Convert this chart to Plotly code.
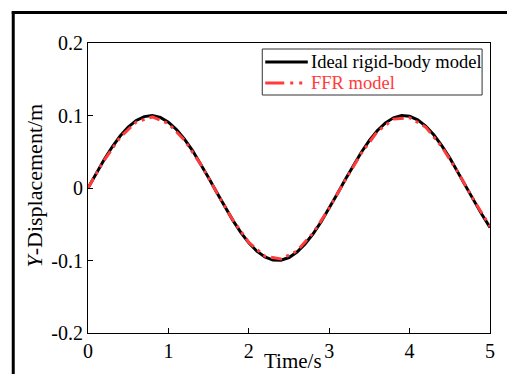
import plotly.graph_objects as go

# Ideal rigid-body model (sampled every 0.1 s)
t_ideal = [0.0, 0.1, 0.2, 0.3, 0.4, 0.5, 0.6, 0.7, 0.8, 0.9,
           1.0, 1.1, 1.2, 1.3, 1.4, 1.5, 1.6, 1.7, 1.8, 1.9,
           2.0, 2.1, 2.2, 2.3, 2.4, 2.5, 2.6, 2.7, 2.8, 2.9,
           3.0, 3.1, 3.2, 3.3, 3.4, 3.5, 3.6, 3.7, 3.8, 3.9,
           4.0, 4.1, 4.2, 4.3, 4.4, 4.5, 4.6, 4.7, 4.8, 4.9, 5.0]
y_ideal = [0.0, 0.0199, 0.0389, 0.0565, 0.0717, 0.0841, 0.0932, 0.0985, 0.0999, 0.0974,
           0.0909, 0.0808, 0.0675, 0.0516, 0.0335, 0.0141, -0.0058, -0.0256, -0.0443, -0.0612,
           -0.0757, -0.0872, -0.0952, -0.0994, -0.0996, -0.0959, -0.0883, -0.0773, -0.0631, -0.0465,
           -0.0279, -0.0083, 0.0117, 0.0312, 0.0494, 0.0657, 0.0794, 0.0899, 0.0968, 0.0999,
           0.0989, 0.0941, 0.0855, 0.0734, 0.0585, 0.0412, 0.0223, 0.0025, -0.0174, -0.0366, -0.0544]

# FFR model (coarser samples)
t_ffr = [0.0, 0.2, 0.4, 0.6, 0.8, 1.0, 1.2, 1.4, 1.6, 1.8,
         2.0, 2.2, 2.4, 2.6, 2.8, 3.0, 3.2, 3.4, 3.6, 3.8,
         4.0, 4.2, 4.4, 4.6, 4.8, 5.0]
y_ffr = [0.0, 0.038, 0.070, 0.091, 0.098, 0.089, 0.066, 0.033, -0.006, -0.044,
         -0.075, -0.094, -0.098, -0.087, -0.062, -0.028, 0.011, 0.048, 0.078, 0.095,
         0.097, 0.084, 0.057, 0.022, -0.017, -0.053]

series_names = ["Ideal rigid-body model", "FFR model"]

x_ticks = [0, 1, 2, 3, 4, 5]
x_ticklabels = ["0", "1", "2", "3", "4", "5"]
y_ticks = [-0.2, -0.1, 0, 0.1, 0.2]
y_ticklabels = ["-0.2", "-0.1", "0", "0.1", "0.2"]

RED = "#ff3b3b"
FONT = "Liberation Serif, Times New Roman, Times, serif"
RED_DASH = "11px,5px,3px,5px,3px,5px"

fig = go.Figure()
fig.add_trace(go.Scatter(x=t_ideal, y=y_ideal, mode="lines", name=series_names[0],
                         line=dict(color="black", width=3), showlegend=False))
fig.add_trace(go.Scatter(x=t_ffr, y=y_ffr, mode="lines", name=series_names[1],
                         line=dict(color=RED, width=3, dash=RED_DASH), showlegend=False))

W, H = 507, 374
L, R, T, B = 88, 13, 43, 41
pw, ph = W - L - R, H - T - B

def px_to_paper_x(px):
    return (px - L) / pw

def px_to_paper_y(py):
    return (H - B - py) / ph

axis_common = dict(showgrid=False, zeroline=False, showline=True, linecolor="black",
                   linewidth=1, mirror=True, ticks="inside", ticklen=5, tickwidth=1,
                   tickcolor="black",
                   tickfont=dict(family=FONT, size=20, color="black"))

ROW1, ROW2 = 62, 83
shapes = [
    # outer frame (cropped figure border)
    dict(type="line", xref="paper", yref="paper",
         x0=px_to_paper_x(12.5), x1=px_to_paper_x(12.5),
         y0=px_to_paper_y(11.5), y1=px_to_paper_y(380),
         line=dict(color="black", width=3)),
    dict(type="line", xref="paper", yref="paper",
         x0=px_to_paper_x(11), x1=px_to_paper_x(520),
         y0=px_to_paper_y(12.5), y1=px_to_paper_y(12.5),
         line=dict(color="black", width=3)),
    # custom legend box
    dict(type="rect", xref="paper", yref="paper",
         x0=px_to_paper_x(264), x1=px_to_paper_x(486),
         y0=px_to_paper_y(95), y1=px_to_paper_y(49),
         fillcolor="white", line=dict(color="#333333", width=1), layer="above"),
    dict(type="line", xref="paper", yref="paper",
         x0=px_to_paper_x(267), x1=px_to_paper_x(310),
         y0=px_to_paper_y(ROW1), y1=px_to_paper_y(ROW1),
         line=dict(color="black", width=3), layer="above"),
    dict(type="line", xref="paper", yref="paper",
         x0=px_to_paper_x(267), x1=px_to_paper_x(310),
         y0=px_to_paper_y(ROW2), y1=px_to_paper_y(ROW2),
         line=dict(color=RED, width=3, dash="19px,6px,3px,6px,3px,6px"), layer="above"),
]

annotations = [
    dict(text="Time/s", xref="paper", yref="paper",
         x=px_to_paper_x(295), y=px_to_paper_y(361), xanchor="center", yanchor="middle",
         showarrow=False, font=dict(family=FONT, size=21, color="black")),
    dict(text="<i>Y</i>-Displacement/m", xref="paper", yref="paper",
         x=px_to_paper_x(33), y=px_to_paper_y(186), xanchor="center", yanchor="middle",
         textangle=-90, showarrow=False, font=dict(family=FONT, size=22, color="black")),
    dict(text=series_names[0], xref="paper", yref="paper",
         x=px_to_paper_x(312), y=px_to_paper_y(ROW1), xanchor="left", yanchor="middle",
         height=20, valign="middle", borderpad=0,
         showarrow=False, font=dict(family=FONT, size=18.5, color="black")),
    dict(text=series_names[1], xref="paper", yref="paper",
         x=px_to_paper_x(312), y=px_to_paper_y(ROW2), xanchor="left", yanchor="middle",
         height=20, valign="middle", borderpad=0,
         showarrow=False, font=dict(family=FONT, size=18.5, color=RED)),
]

fig.update_layout(
    width=W, height=H,
    margin=dict(l=L, r=R, t=T, b=B),
    paper_bgcolor="white", plot_bgcolor="white",
    font=dict(family=FONT, color="black"),
    xaxis=dict(range=[0, 5], tickvals=x_ticks, ticktext=x_ticklabels, **axis_common),
    yaxis=dict(range=[-0.2, 0.2], tickvals=y_ticks, ticktext=y_ticklabels, **axis_common),
    showlegend=False,
    annotations=annotations,
    shapes=shapes,
)

fig.write_html("out.html")
